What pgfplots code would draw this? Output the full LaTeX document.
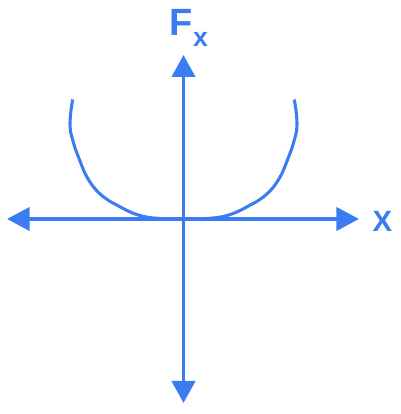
\documentclass[border=0pt]{standalone}
\usepackage{pgfplots}
\pgfplotsset{compat=1.18}
\usepackage{fontspec}
\setmainfont{Liberation Sans}
\usetikzlibrary{arrows.meta}
\definecolor{axblue}{HTML}{3B7DF0}
\begin{document}
\begin{tikzpicture}
\begin{axis}[
  scale only axis,
  width=300pt, height=310.5pt,
  xmin=-183.5, xmax=216.5,
  ymin=-195, ymax=219,
  hide axis,
  clip=false,
]
\path[draw=none] (rel axis cs:0,0) rectangle (rel axis cs:1,1);
% axes
\addplot[axblue, line width=2.4pt, {Triangle[length=17pt,width=17.5pt]}-{Triangle[length=17pt,width=17.5pt]}]
  coordinates {(-176.5,0) (175.5,0)};
\addplot[axblue, line width=2.4pt, {Triangle[length=16.5pt,width=17.5pt]}-{Triangle[length=16.5pt,width=17.5pt]}]
  coordinates {(0,-184) (0,164)};
% curve
\addplot[axblue, line width=2.3pt, smooth, tension=0.5] coordinates {
  (-110.8,119.5) (-112.6,108) (-113.5,96) (-112.9,87) (-110.8,79)
  (-108.3,70.5) (-105.2,62.3) (-102,54) (-98.5,45.7) (-94.5,38.5)
  (-90.2,32.3) (-85.5,27) (-80.2,22.3) (-73.8,17.8) (-66.8,14)
  (-58.5,9.5) (-50.2,5.7) (-42.5,3.2) (-35,1.6) (-25,0.6) (-12,0.1) (0,0)
  (12,0.1) (25,0.6) (35,1.6) (42.5,3.2) (50.2,5.7) (58.5,9.5)
  (66.8,14) (73.8,17.8) (80.2,22.3) (85.5,27) (90.2,32.3)
  (94.5,38.5) (98.5,45.7) (102,54) (105.2,62.3) (108.3,70.5)
  (110.8,79) (112.9,87) (113.5,96) (112.6,108) (110.8,119.5)
};
\node[axblue, inner sep=0pt, anchor=base west, font=\fontsize{28.5}{28.5}\selectfont\bfseries]
  at (axis cs:-14.5,183) {F\hspace{0.5pt}\raisebox{-8pt}{\fontsize{20}{20}\selectfont\bfseries x}};
\node[axblue, inner sep=0pt, font=\fontsize{22}{22}\selectfont\bfseries] at (axis cs:199,-2) {X};
\end{axis}
\end{tikzpicture}
\end{document}
